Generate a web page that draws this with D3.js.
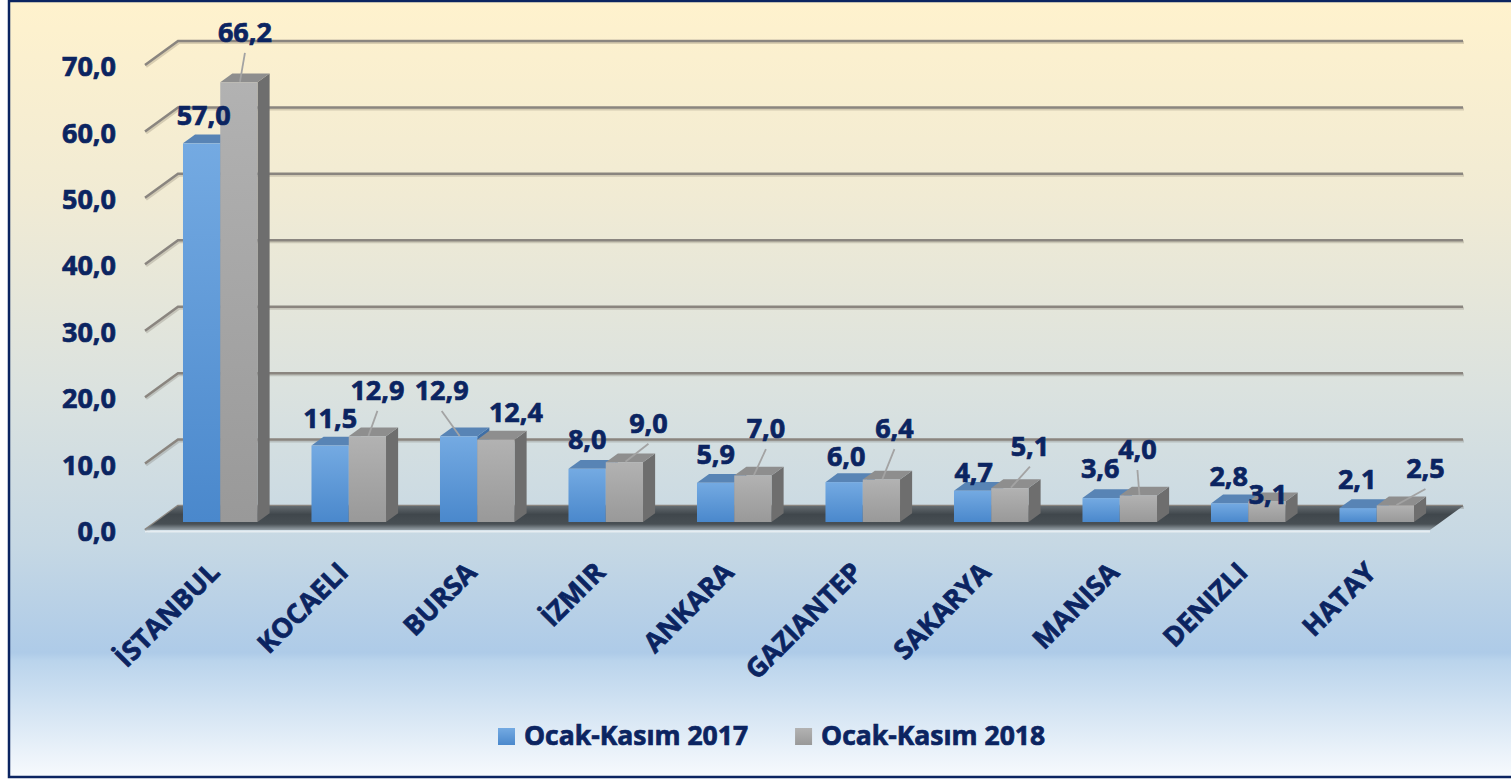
<!DOCTYPE html>
<html>
<head>
<meta charset="utf-8">
<script src="https://cdn.jsdelivr.net/npm/d3@7/dist/d3.min.js"></script>
<style>
  html, body { margin: 0; padding: 0; background: #ffffff; }
  svg { display: block; }
  text { font-family: "Open Sans", "Noto Sans", sans-serif; font-weight: 700; fill: #0b2461; stroke: #0b2461; stroke-width: 0.7px; }
</style>
</head>
<body>
<div id="chart"></div>
<script>
const cities = ["İSTANBUL", "KOCAELI", "BURSA", "İZMIR", "ANKARA", "GAZIANTEP", "SAKARYA", "MANISA", "DENIZLI", "HATAY"];
const values2017 = [57.0, 11.5, 12.9, 8.0, 5.9, 6.0, 4.7, 3.6, 2.8, 2.1];
const values2018 = [66.2, 12.9, 12.4, 9.0, 7.0, 6.4, 5.1, 4.0, 3.1, 2.5];
const seriesNames = ["Ocak-Kasım 2017", "Ocak-Kasım 2018"];
const yTicks = [0, 10, 20, 30, 40, 50, 60, 70];

// label nudges from the top of each bar (layout, not data)
const nudge2017 = [[-4, -24], [-6, -23], [-23, -42], [-6, -25], [-6, -24], [-4, -22], [-5, -14], [-7, -26], [-7, -23], [-7, -25]];
const nudge2018 = [[0, -46], [4, -42], [14, -23], [18, -35], [7, -43], [7, -47], [14, -38], [-7, -42], [-5, -3], [24, -33]];

const width = 1511, height = 779;
const depth = { dx: 33, dy: -24 };   // floor front -> back wall
const barZ0 = 1 / 3, barZ1 = 0.7;
const fmt = (v) => d3.format(".1f")(v).replace(".", ",");

const svg = d3.select("#chart").append("svg")
  .attr("width", width)
  .attr("height", height);

const defs = svg.append("defs");
const bg = defs.append("linearGradient").attr("id", "bg").attr("x1", 0).attr("y1", 0).attr("x2", 0).attr("y2", 1);
[["0%", "#fff2cd"], ["25%", "#f1ebd4"], ["50%", "#dbe2df"], ["70%", "#c6d8e4"], ["84%", "#aecbe8"], ["85%", "#bad4ec"], ["100%", "#f7fafd"]]
  .forEach(([o, c]) => bg.append("stop").attr("offset", o).attr("stop-color", c));

const blueGrad = defs.append("linearGradient").attr("id", "blueFront").attr("x1", 0).attr("y1", 0).attr("x2", 0).attr("y2", 1);
blueGrad.append("stop").attr("offset", "0%").attr("stop-color", "#74aae2");
blueGrad.append("stop").attr("offset", "100%").attr("stop-color", "#4a88cc");
const greyGrad = defs.append("linearGradient").attr("id", "greyFront").attr("x1", 0).attr("y1", 0).attr("x2", 0).attr("y2", 1);
greyGrad.append("stop").attr("offset", "0%").attr("stop-color", "#b2b2b2");
greyGrad.append("stop").attr("offset", "100%").attr("stop-color", "#999999");
const floorGrad = defs.append("linearGradient").attr("id", "floor").attr("x1", 0).attr("y1", 0).attr("x2", 0).attr("y2", 1);
[["0%", "#646b70"], ["35%", "#40474c"], ["75%", "#484f54"], ["100%", "#97a1a8"]]
  .forEach(([o, c]) => floorGrad.append("stop").attr("offset", o).attr("stop-color", c));

svg.append("rect")
  .attr("x", 9).attr("y", 1)
  .attr("width", 1510).attr("height", 776)
  .attr("fill", "url(#bg)")
  .attr("stroke", "#0b2461")
  .attr("stroke-width", 2.5);

const y = d3.scaleLinear().domain([0, 70]).range([530, 65]);
const x = d3.scaleBand().domain(cities).range([145, 1430]).paddingInner(0.42).paddingOuter(0.21);
const xs = d3.scaleBand().domain(seriesNames).range([0, x.bandwidth()]);

const off = (z) => [depth.dx * z, depth.dy * z];
const x0 = x.range()[0], x1 = x.range()[1];

// wall gridlines
const grid = svg.append("g");
yTicks.forEach((t) => {
  const [bx, by] = off(1);
  const pts = [[x0, y(t)], [x0 + bx, y(t) + by], [x1 + bx, y(t) + by]];
  const line = d3.line();
  grid.append("path")
    .attr("d", line(pts.map(([a, b]) => [a + 1, b + 1.5])))
    .attr("fill", "none").attr("stroke", "rgba(60,50,40,0.18)").attr("stroke-width", 3);
  grid.append("path")
    .attr("d", line(pts))
    .attr("fill", "none").attr("stroke", "#8a857f").attr("stroke-width", 2.5);
});

// floor
const [fbx, fby] = off(1);
svg.append("path")
  .attr("d", d3.line()([[x0, y(0)], [x1, y(0)], [x1 + fbx, y(0) + fby], [x0 + fbx, y(0) + fby]]) + "Z")
  .attr("fill", "url(#floor)");
svg.append("line")
  .attr("x1", x0).attr("x2", x1)
  .attr("y1", y(0) + 1.5).attr("y2", y(0) + 1.5)
  .attr("stroke", "#e6edf2").attr("stroke-width", 2);

// y axis labels
const yAxis = svg.append("g")
  .attr("transform", "translate(126,2)")
  .call(d3.axisLeft(y).tickValues(yTicks).tickSize(0).tickPadding(10).tickFormat(fmt));
yAxis.select(".domain").remove();
yAxis.selectAll("text")
  .attr("font-size", 27)
  .attr("font-family", null)
  .attr("fill", null);

// bars
const series = [
  { name: seriesNames[0], values: values2017, front: "url(#blueFront)", top: "#5884b5", side: "#3f6fa6", nudge: nudge2017 },
  { name: seriesNames[1], values: values2018, front: "url(#greyFront)", top: "#8e8e8e", side: "#6e6e6e", nudge: nudge2018 },
];
const [fx, fy] = off(barZ0);
const [dx, dy] = [depth.dx * (barZ1 - barZ0), depth.dy * (barZ1 - barZ0)];
const barsG = svg.append("g");
const labelsG = svg.append("g");
const poly = (p) => d3.line()(p) + "Z";

cities.forEach((city, i) => {
  series.forEach((s) => {
    const v = s.values[i];
    const bx = x(city) + xs(s.name) + fx;
    const bw = xs.bandwidth();
    const yt = y(v) + fy, yb = y(0) + fy;
    const g = barsG.append("g");
    g.append("path").attr("d", poly([[bx + bw, yt], [bx + bw + dx, yt + dy], [bx + bw + dx, yb + dy], [bx + bw, yb]]))
      .attr("fill", s.side);
    g.append("path").attr("d", poly([[bx, yt], [bx + bw, yt], [bx + bw + dx, yt + dy], [bx + dx, yt + dy]]))
      .attr("fill", s.top);
    g.append("rect").attr("x", bx).attr("y", yt).attr("width", bw).attr("height", yb - yt)
      .attr("fill", s.front);

    const ax = bx + bw / 2 + dx / 2, ay = yt + dy / 2;
    const [nx, ny] = s.nudge[i];
    const lx = ax + nx, ly = ay + ny;
    if (ny < -30 || Math.abs(nx) > 15) {
      labelsG.append("line")
        .attr("x1", lx).attr("y1", ly + 21)
        .attr("x2", ax - 5).attr("y2", ay + 4)
        .attr("stroke", "#a3a3a3").attr("stroke-width", 1.8);
    }
    labelsG.append("text")
      .attr("x", lx).attr("y", ly + 10)
      .attr("text-anchor", "middle")
      .attr("font-size", 27)
      .text(fmt(v));
  });
});

// category labels
svg.append("g").selectAll("text")
  .data(cities)
  .join("text")
  .attr("transform", (d) => `translate(${x(d) + x.bandwidth() / 2 + 12},574) rotate(-45)`)
  .attr("text-anchor", "end")
  .attr("font-size", 27)
  .text((d) => d);

// legend
const legend = svg.append("g").attr("transform", "translate(498,728)");
const legendColors = ["url(#blueFront)", "url(#greyFront)"];
let lx = 0;
seriesNames.forEach((name, i) => {
  const item = legend.append("g").attr("transform", `translate(${lx},0)`);
  item.append("rect").attr("width", 17).attr("height", 17).attr("fill", legendColors[i]);
  const t = item.append("text").attr("x", 26).attr("y", 17).attr("font-size", 26.5).text(name);
  lx += 26 + t.node().getComputedTextLength() + 47;
});
</script>
</body>
</html>
